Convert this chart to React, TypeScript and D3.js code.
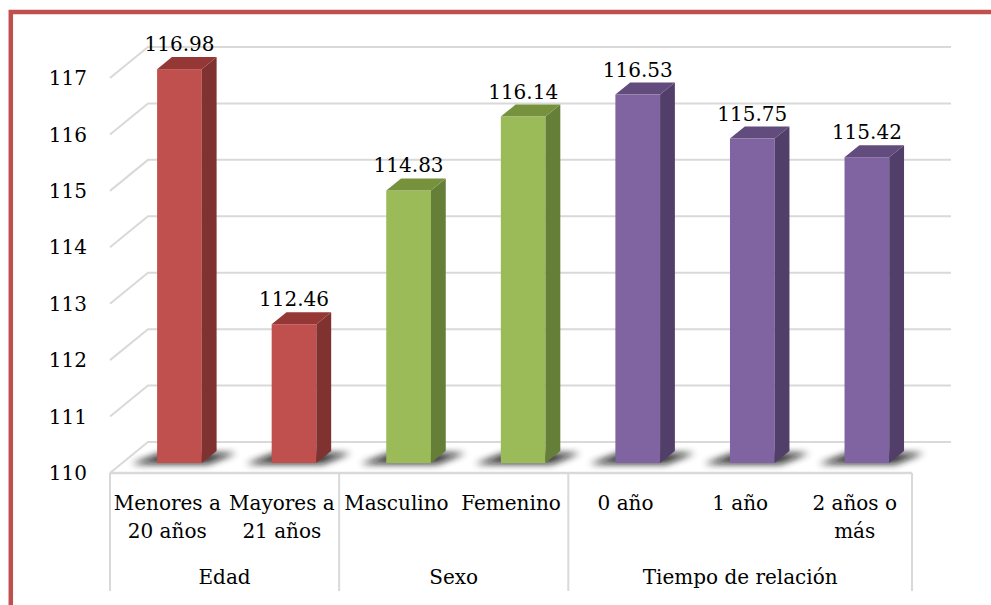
import React, { useEffect, useRef } from "react";
import { select, scaleBand, scaleLinear } from "d3";

const categories = [
  "Menores a|20 años",
  "Mayores a|21 años",
  "Masculino",
  "Femenino",
  "0 año",
  "1 año",
  "2 años o|más",
];
const values = [116.98, 112.46, 114.83, 116.14, 116.53, 115.75, 115.42];
const groups = ["Edad", "Sexo", "Tiempo de relación"];
const groupSizes = [2, 2, 3];
const yTicks = [110, 111, 112, 113, 114, 115, 116, 117];

// front / side / top colour per group
const palette = [
  { front: "#C0504D", side: "#7F3230", top: "#953735" },
  { front: "#9BBB59", side: "#667F38", top: "#77923C" },
  { front: "#8064A2", side: "#523F69", top: "#624B7D" },
];

const W = 991;
const H = 605;
const FONT = "DejaVu Serif, Liberation Serif, serif";
const FS = 20;

const App = () => {
  const ref = useRef(null);

  useEffect(() => {
    const svg = select(ref.current);
    svg.selectAll("*").remove();

    const left = 110;
    const right = 912;
    const depthX = 38; // floor depth offset
    const depthY = -31;

    const x = scaleBand().domain(categories).range([left, right]).padding(0);
    const y = scaleLinear().domain([110, 117]).range([473, 78]);

    const groupOf = (i) => {
      let acc = 0;
      for (let g = 0; g < groupSizes.length; g++) {
        acc += groupSizes[g];
        if (i < acc) return g;
      }
      return 0;
    };

    const defs = svg.append("defs");
    defs
      .append("filter")
      .attr("id", "shadowBlur")
      .attr("x", "-50%")
      .attr("y", "-100%")
      .attr("width", "200%")
      .attr("height", "300%")
      .append("feGaussianBlur")
      .attr("stdDeviation", 3.5);

    // frame
    svg
      .append("path")
      .attr("d", `M10.8,${H + 10} L10.8,12 L${W + 10},12`)
      .attr("fill", "none")
      .attr("stroke", "#C0504D")
      .attr("stroke-width", 4.5);

    const y0 = y(110);

    // gridlines on the side + back wall
    svg
      .selectAll(".grid")
      .data(yTicks)
      .join("path")
      .attr("class", "grid")
      .attr(
        "d",
        (t) =>
          `M${left},${y(t)} L${left + depthX},${y(t) + depthY} L${right + depthX + 1},${y(t) + depthY}`
      )
      .attr("fill", "none")
      .attr("stroke", "#D9D9D9")
      .attr("stroke-width", 2);

    // y tick labels
    svg
      .selectAll(".ytick")
      .data(yTicks)
      .join("text")
      .attr("class", "ytick")
      .attr("x", 87)
      .attr("y", (t) => y(t))
      .attr("dy", "0.36em")
      .attr("text-anchor", "end")
      .attr("font-family", FONT)
      .attr("font-size", FS)
      .attr("fill", "#000")
      .text((t) => t);

    // bars
    const fFront = 0.32;
    const fBack = 0.71;
    const bw = x.bandwidth() * 0.39;
    const data = categories.map((c, i) => ({ c, v: values[i], g: groupOf(i) }));

    const bars = svg.selectAll(".bar").data(data).join("g").attr("class", "bar");

    const geom = (d) => {
      const cx = x(d.c) + x.bandwidth() / 2;
      const x0 = cx - bw / 2 + depthX * fFront;
      const x1 = x0 + bw;
      const ox = depthX * (fBack - fFront);
      const oy = depthY * (fBack - fFront);
      const top = y(d.v) + depthY * fFront;
      const bot = y0 + depthY * fFront;
      return { x0, x1, ox, oy, top, bot };
    };

    // blurred floor shadow, skewed towards the front-left
    bars
      .append("path")
      .attr("d", (d) => {
        const g = geom(d);
        return `M${g.x0 - 26},${g.bot + 1} L${g.x1 + 6},${g.bot + 1} L${g.x1 + g.ox + 20},${g.bot - 10} L${g.x0 + 4},${g.bot - 10} Z`;
      })
      .attr("fill", "#111")
      .attr("opacity", 0.85)
      .attr("filter", "url(#shadowBlur)");

    bars
      .append("rect")
      .attr("x", (d) => geom(d).x0)
      .attr("y", (d) => geom(d).top)
      .attr("width", bw)
      .attr("height", (d) => geom(d).bot - geom(d).top)
      .attr("fill", (d) => palette[d.g].front);

    bars
      .append("path")
      .attr("d", (d) => {
        const g = geom(d);
        return `M${g.x1},${g.top} L${g.x1 + g.ox},${g.top + g.oy} L${g.x1 + g.ox},${g.bot + g.oy} L${g.x1},${g.bot} Z`;
      })
      .attr("fill", (d) => palette[d.g].side);

    bars
      .append("path")
      .attr("d", (d) => {
        const g = geom(d);
        return `M${g.x0},${g.top} L${g.x0 + g.ox},${g.top + g.oy} L${g.x1 + g.ox},${g.top + g.oy} L${g.x1},${g.top} Z`;
      })
      .attr("fill", (d) => palette[d.g].top);

    bars
      .append("text")
      .attr("x", (d) => geom(d).x0 + bw / 2)
      .attr("y", (d) => geom(d).top + geom(d).oy - 6)
      .attr("text-anchor", "middle")
      .attr("font-family", FONT)
      .attr("font-size", FS)
      .attr("fill", "#000")
      .text((d) => d.v.toFixed(2));

    // category table
    const tableTop = y0;
    const tableBot = 591;
    svg
      .append("line")
      .attr("x1", left)
      .attr("x2", right)
      .attr("y1", tableTop)
      .attr("y2", tableTop)
      .attr("stroke", "#D9D9D9")
      .attr("stroke-width", 2.5);

    const cuts = [0];
    groupSizes.forEach((s) => cuts.push(cuts[cuts.length - 1] + s));
    const cutX = cuts.map((k) => (k < categories.length ? x(categories[k]) : right));

    svg
      .selectAll(".vline")
      .data(cutX)
      .join("line")
      .attr("class", "vline")
      .attr("x1", (d) => d)
      .attr("x2", (d) => d)
      .attr("y1", tableTop)
      .attr("y2", tableBot)
      .attr("stroke", "#D9D9D9")
      .attr("stroke-width", 2);

    const catText = svg
      .selectAll(".cat")
      .data(categories)
      .join("text")
      .attr("class", "cat")
      .attr("text-anchor", "middle")
      .attr("font-family", FONT)
      .attr("font-size", FS)
      .attr("fill", "#000");

    catText
      .selectAll("tspan")
      .data((c) => c.split("|").map((s) => ({ s, c })))
      .join("tspan")
      .attr("x", (d) => x(d.c) + x.bandwidth() / 2)
      .attr("y", (d, i) => 503 + i * 28)
      .attr("dy", "0.36em")
      .text((d) => d.s);

    svg
      .selectAll(".grp")
      .data(groups)
      .join("text")
      .attr("class", "grp")
      .attr("x", (d, i) => (cutX[i] + cutX[i + 1]) / 2)
      .attr("y", 577)
      .attr("dy", "0.36em")
      .attr("text-anchor", "middle")
      .attr("font-family", FONT)
      .attr("font-size", FS)
      .attr("fill", "#000")
      .text((d) => d);
  }, []);

  return (
    <svg
      ref={ref}
      width={W}
      height={H}
      style={{ position: "absolute", left: 0, top: 0, background: "#fff" }}
    ></svg>
  );
};

export default App;
